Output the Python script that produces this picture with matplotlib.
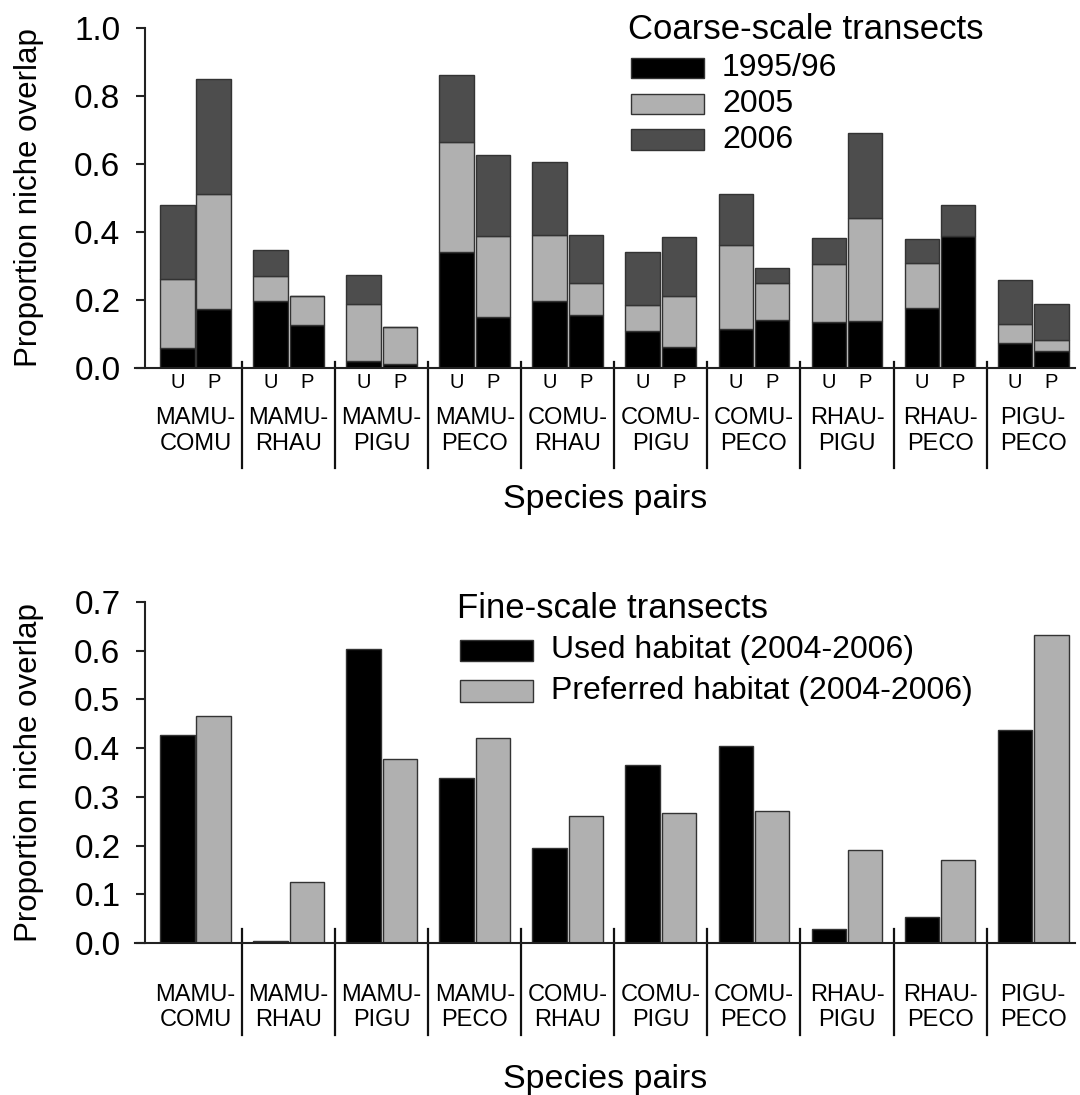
import matplotlib
matplotlib.use("Agg")
import matplotlib.pyplot as plt
import numpy as np
from matplotlib.patches import Rectangle
from matplotlib.transforms import blended_transform_factory

plt.rcParams["font.family"] = ["Liberation Sans", "DejaVu Sans"]

# species pairs (shared by both panels)
pairs = ["MAMU-\nCOMU", "MAMU-\nRHAU", "MAMU-\nPIGU", "MAMU-\nPECO", "COMU-\nRHAU",
         "COMU-\nPIGU", "COMU-\nPECO", "RHAU-\nPIGU", "RHAU-\nPECO", "PIGU-\nPECO"]

# coarse-scale transects, stacked segments per year
years = ["1995/96", "2005", "2006"]
year_colors = ["#000000", "#b0b0b0", "#4d4d4d"]
used_1995 = [0.059, 0.196, 0.021, 0.341, 0.196, 0.109, 0.114, 0.135, 0.176, 0.075]
used_2005 = [0.202, 0.076, 0.168, 0.325, 0.196, 0.076, 0.247, 0.170, 0.134, 0.054]
used_2006 = [0.219, 0.075, 0.086, 0.195, 0.213, 0.157, 0.150, 0.076, 0.069, 0.129]
pref_1995 = [0.174, 0.126, 0.011, 0.149, 0.155, 0.062, 0.142, 0.139, 0.387, 0.051]
pref_2005 = [0.339, 0.086, 0.110, 0.238, 0.094, 0.150, 0.108, 0.301, 0.000, 0.032]
pref_2006 = [0.336, 0.000, 0.000, 0.240, 0.142, 0.174, 0.043, 0.251, 0.092, 0.106]

# fine-scale transects
fine_labels = ["Used habitat (2004-2006)", "Preferred habitat (2004-2006)"]
fine_colors = ["#000000", "#b0b0b0"]
fine_used = [0.426, 0.005, 0.604, 0.339, 0.195, 0.365, 0.404, 0.028, 0.053, 0.438]
fine_pref = [0.465, 0.125, 0.378, 0.421, 0.260, 0.267, 0.270, 0.191, 0.170, 0.633]

EDGE = "#333333"
W = 0.37
OFF = 0.195


def style_axes(ax, ymax, step):
    ax.set_xlim(-0.65, 9.45)
    ax.set_ylim(0, ymax)
    ax.spines["top"].set_visible(False)
    ax.spines["right"].set_visible(False)
    ax.spines["left"].set_position(("data", -0.545))
    ax.spines["left"].set_bounds(0, ymax)
    for s in ("left", "bottom"):
        ax.spines[s].set_linewidth(1.5)
        ax.spines[s].set_color("#222222")
    ax.set_yticks(np.arange(0, ymax + 1e-9, step))
    ax.set_yticklabels([f"{v:.1f}" for v in np.arange(0, ymax + 1e-9, step)])
    ax.tick_params(axis="y", labelsize=24, length=6.5, width=1.5, pad=11, color="#222222")
    ax.set_ylabel("Proportion niche overlap", fontsize=22.5)
    ax.yaxis.set_label_coords(-0.097, 0.5)


def group_decor(ax, sep_top, sep_bot, label_y, title_y):
    trans = blended_transform_factory(ax.transData, ax.transAxes)
    x = np.arange(len(pairs))
    for xs in x[:-1] + 0.5:
        ax.plot([xs, xs], [sep_bot, sep_top], transform=trans, color="#111111",
                lw=1.6, clip_on=False)
    for xi, name in zip(x, pairs):
        ax.text(xi, label_y, name, transform=trans, ha="center", va="center",
                fontsize=17, linespacing=1.2)
    ax.text(0.5, title_y, "Species pairs", transform=ax.transAxes, ha="center",
            va="center", fontsize=24.5)


def draw_legend(ax, x0, title_y, rows_y, box_h, title, labels, colors):
    ax.text(x0 - 0.003, title_y, title, transform=ax.transAxes, ha="left",
            va="center", fontsize=25)
    for y, lab, c in zip(rows_y, labels, colors):
        ax.add_patch(Rectangle((x0, y - box_h / 2), 0.0777, box_h, transform=ax.transAxes,
                               facecolor=c, edgecolor=EDGE, lw=1.0, clip_on=False))
        ax.text(x0 + 0.0967, y, lab, transform=ax.transAxes, ha="left", va="center",
                fontsize=23)


fig = plt.figure(figsize=(10.8, 10.95), dpi=100)
ax1 = fig.add_axes([0.125, 1 - 368 / 1095, 0.8704, 340 / 1095])
ax2 = fig.add_axes([0.125, 1 - 943 / 1095, 0.8704, 341 / 1095])

# top panel: stacked bars for U and P
x = np.arange(len(pairs))
for pos, segs in [(x - OFF, [used_1995, used_2005, used_2006]),
                  (x + OFF, [pref_1995, pref_2005, pref_2006])]:
    bottom = np.zeros(len(pairs))
    for vals, c in zip(segs, year_colors):
        vals = np.asarray(vals)
        ax1.bar(pos, vals, width=W, bottom=bottom, color=c, edgecolor=EDGE, lw=1.0)
        bottom = bottom + vals

style_axes(ax1, 1.0, 0.2)
ax1.set_xticks(np.concatenate([x - OFF, x + OFF]))
ax1.set_xticklabels(["U"] * len(pairs) + ["P"] * len(pairs))
ax1.tick_params(axis="x", length=0, labelsize=14.5, pad=3.5)
group_decor(ax1, 0.018, -0.295, -0.185, -0.388)
draw_legend(ax1, 0.5277, 0.997, [0.882, 0.776, 0.672], 0.059,
            "Coarse-scale transects", years, year_colors)

# bottom panel: side-by-side bars
ax2.bar(x - OFF, fine_used, width=W, color=fine_colors[0], edgecolor=EDGE, lw=1.0)
ax2.bar(x + OFF, fine_pref, width=W, color=fine_colors[1], edgecolor=EDGE, lw=1.0)
style_axes(ax2, 0.7, 0.1)
ax2.set_xticks([])
group_decor(ax2, 0.042, -0.27, -0.19, -0.40)
draw_legend(ax2, 0.3457, 0.982, [0.859, 0.739], 0.0616,
            "Fine-scale transects", fine_labels, fine_colors)

fig.savefig("out.png", dpi=100)
